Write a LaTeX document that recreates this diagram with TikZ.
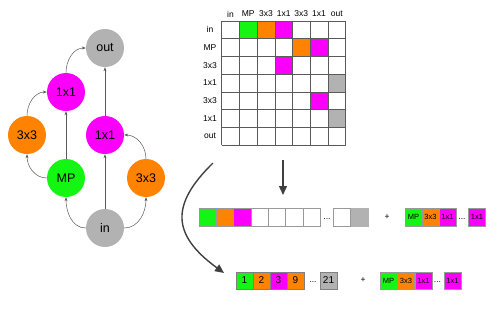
\documentclass[tikz,border=0pt]{standalone}
\usepackage{fontspec}
\setmainfont{Liberation Sans}
\usetikzlibrary{arrows.meta}

\definecolor{opgreen}{RGB}{20,245,20}
\definecolor{oporange}{RGB}{255,130,0}
\definecolor{opmagenta}{RGB}{250,0,250}
\definecolor{opgray}{RGB}{178,178,178}
\definecolor{linegray}{RGB}{90,90,90}

\begin{document}
\begin{tikzpicture}[x=1pt, y=-1pt,
    op/.style={circle, minimum size=38pt, inner sep=0pt, font=\fontsize{12.5}{14}\selectfont},
    edge/.style={-{Stealth[length=4pt,width=3pt]}, linegray, line width=0.5pt},
    bigarrow/.style={-{Triangle[length=9pt,width=8pt]}, black!75, line width=1.4pt},
    cell/.style={draw=gray!80, minimum width=17.3pt, minimum height=18pt, inner sep=0pt},
    tiny/.style={cell, font=\fontsize{7.5}{8}\selectfont},
    num/.style={cell, minimum width=17pt, minimum height=17pt, draw=gray, font=\fontsize{10}{11}\selectfont},
    lbl/.style={font=\fontsize{8.5}{9}\selectfont}]
  \useasboundingbox (0,0) rectangle (496,322);

  % network graph
  \node[op, fill=opgray] (out) at (105,48) {out};
  \node[op, fill=opmagenta] (l1) at (66,92) {1x1};
  \node[op, fill=oporange] (l3) at (27,135) {3x3};
  \node[op, fill=opmagenta] (r1) at (105,135) {1x1};
  \node[op, fill=opgreen] (mp) at (66,178) {MP};
  \node[op, fill=oporange] (r3) at (146,178) {3x3};
  \node[op, fill=opgray] (in) at (105,228) {in};

  \draw[edge] (in.west) to[out=180, in=-90] (mp.south);
  \draw[edge] (in) -- (r1);
  \draw[edge] (in.east) to[out=0, in=-90] (r3.south);
  \draw[edge] (mp.west) to[out=180, in=-90] (l3.south);
  \draw[edge] (mp) -- (l1);
  \draw[edge] (l3.north) to[out=90, in=180] (l1.west);
  \draw[edge] (r3.north) to[out=90, in=0] (r1.east);
  \draw[edge] (l1.north) to[out=90, in=180] (out.west);
  \draw[edge] (r1) -- (out);

  % adjacency matrix
  \def\cs{17.7}
  \foreach \r/\c/\col in {0/1/opgreen, 0/2/oporange, 0/3/opmagenta, 1/4/oporange, 1/5/opmagenta,
      2/3/opmagenta, 3/6/opgray, 4/5/opmagenta, 5/6/opgray}
    \fill[\col] (221.7+\c*\cs,21+\r*\cs) rectangle ++(\cs,\cs);
  \foreach \i in {0,...,7} {
    \draw[linegray, line width=0.5pt] (221.7+\i*\cs,21) -- ++(0,7*\cs);
    \draw[linegray, line width=0.5pt] (221.7,21+\i*\cs) -- ++(7*\cs,0);
  }
  \foreach \t [count=\i from 0] in {in,MP,3x3,1x1,3x3,1x1,out} {
    \node[lbl] (col\i) at (221.7+\i*\cs+\cs/2,14) {\t};
    \node[lbl] (row\i) at (210,21+\i*\cs+\cs/2) {\t};
  }

  % encoded vector
  \foreach \col [count=\i from 0] in {opgreen,oporange,opmagenta,white,white,white,white}
    \node[cell, fill=\col] (v\i) at (207.65+\i*17.3,217) {};
  \node[lbl] (vdots) at (327,219) {...};
  \node[cell] (v7) at (342,217) {};
  \node[cell, fill=opgray, draw=opgray] (v8) at (359.5,217) {};
  \node[lbl] (plusa) at (387,217) {+};
  \node[tiny, fill=opgreen] (a1) at (413.5,217) {MP};
  \node[tiny, fill=oporange] (a2) at (430.5,217) {3x3};
  \node[tiny, fill=opmagenta] (a3) at (447.5,217) {1x1};
  \node[lbl] (adots) at (462,219) {...};
  \node[tiny, fill=opmagenta] (a4) at (477,217) {1x1};

  % compact encoding
  \node[num, fill=opgreen] (n1) at (244.5,280.5) {1};
  \node[num, fill=oporange] (n2) at (261.5,280.5) {2};
  \node[num, fill=opmagenta] (n3) at (278.5,280.5) {3};
  \node[num, fill=oporange] (n9) at (295.5,280.5) {9};
  \node[lbl] (ndots) at (313,282) {...};
  \node[num, fill=opgray] (n21) at (328.5,280.5) {21};
  \node[lbl] (plusb) at (363,280.5) {+};
  \node[tiny, fill=opgreen, minimum height=17pt] (b1) at (388.5,280.5) {MP};
  \node[tiny, fill=oporange, minimum height=17pt] (b2) at (406,280.5) {3x3};
  \node[tiny, fill=opmagenta, minimum height=17pt] (b3) at (423.5,280.5) {1x1};
  \node[lbl] (bdots) at (437.5,282) {...};
  \node[tiny, fill=opmagenta, minimum height=17pt] (b4) at (452.5,280.5) {1x1};

  % arrows between stages
  \coordinate (downtop) at (283,160);
  \coordinate (downend) at (283,195);
  \draw[bigarrow] (downtop) -- (downend);
  \coordinate (curvetop) at (213,163);
  \coordinate (curveend) at (224,273);
  \draw[bigarrow] (curvetop) .. controls (170,205) and (172,235) .. (curveend);
\end{tikzpicture}
\end{document}
